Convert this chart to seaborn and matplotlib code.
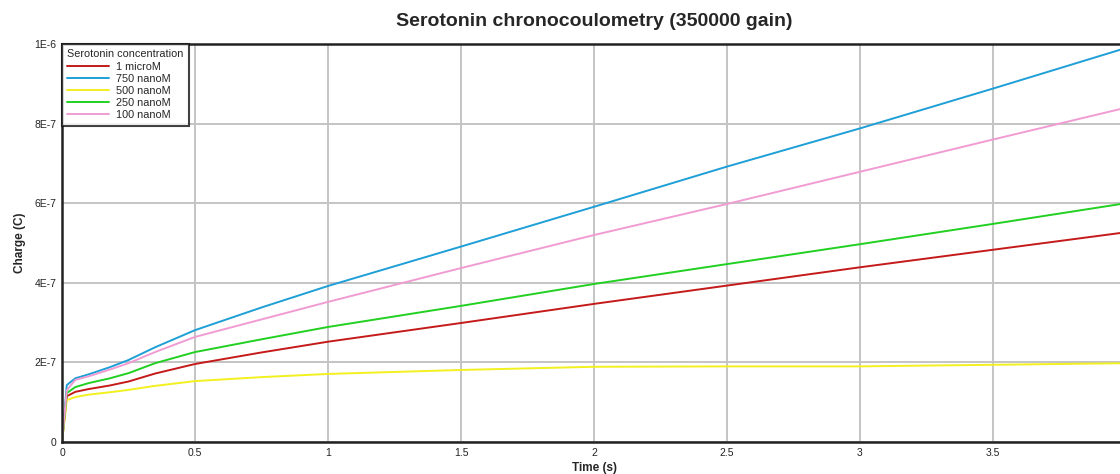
import numpy as np
import pandas as pd
import matplotlib
matplotlib.use("Agg")
import matplotlib.pyplot as plt
import seaborn as sns

# ---- data ----
time_s = [0.0, 0.018, 0.05, 0.1, 0.18, 0.25, 0.35, 0.5, 0.75, 1.0, 1.5, 2.0, 2.5, 3.0, 3.5, 4.0]
q_1uM   = [0.0, 0.115e-6, 0.126e-6, 0.133e-6, 0.142e-6, 0.152e-6, 0.172e-6, 0.196e-6, 0.225e-6, 0.252e-6, 0.299e-6, 0.347e-6, 0.393e-6, 0.439e-6, 0.483e-6, 0.527e-6]
q_750nM = [0.0, 0.143e-6, 0.160e-6, 0.170e-6, 0.188e-6, 0.206e-6, 0.238e-6, 0.281e-6, 0.338e-6, 0.392e-6, 0.491e-6, 0.591e-6, 0.692e-6, 0.788e-6, 0.888e-6, 0.990e-6]
q_500nM = [0.0, 0.105e-6, 0.113e-6, 0.119e-6, 0.125e-6, 0.131e-6, 0.141e-6, 0.153e-6, 0.163e-6, 0.171e-6, 0.181e-6, 0.189e-6, 0.190e-6, 0.190e-6, 0.194e-6, 0.198e-6]
q_250nM = [0.0, 0.123e-6, 0.138e-6, 0.148e-6, 0.160e-6, 0.173e-6, 0.198e-6, 0.226e-6, 0.258e-6, 0.289e-6, 0.342e-6, 0.397e-6, 0.447e-6, 0.497e-6, 0.548e-6, 0.600e-6]
q_100nM = [0.0, 0.130e-6, 0.156e-6, 0.165e-6, 0.182e-6, 0.198e-6, 0.226e-6, 0.264e-6, 0.308e-6, 0.352e-6, 0.437e-6, 0.520e-6, 0.598e-6, 0.679e-6, 0.760e-6, 0.840e-6]

series_names = ["1 microM", "750 nanoM", "500 nanoM", "250 nanoM", "100 nanoM"]
series_vals = [q_1uM, q_750nM, q_500nM, q_250nM, q_100nM]
colors = ["#c41a1a", "#1e9fd6", "#f2f01e", "#22d022", "#f09cd2"]

x_ticks = [0, 0.5, 1, 1.5, 2, 2.5, 3, 3.5]
x_tick_labels = ["0", "0.5", "1", "1.5", "2", "2.5", "3", "3.5"]
y_ticks = [0, 2e-7, 4e-7, 6e-7, 8e-7, 1e-6]
y_tick_labels = ["0", "2E-7", "4E-7", "6E-7", "8E-7", "1E-6"]

rows = []
for name, vals in zip(series_names, series_vals):
    for t, q in zip(time_s, vals):
        rows.append({"Time (s)": t, "Charge (C)": q, "Serotonin concentration": name})
df = pd.DataFrame(rows)

sns.set_theme(style="white")
plt.rcParams["font.family"] = ["Liberation Sans", "DejaVu Sans"]

fig = plt.figure(figsize=(11.2, 4.74), dpi=100)
ax = fig.add_axes([62 / 1120, 32 / 474, 1064 / 1120, 398 / 474])

sns.lineplot(data=df, x="Time (s)", y="Charge (C)", hue="Serotonin concentration",
             hue_order=series_names, palette=colors, linewidth=1.4, ax=ax,
             estimator=None, sort=False)

ax.set_xlim(0, 4)
ax.set_ylim(0, 1e-6)
ax.set_xticks(x_ticks)
ax.set_xticklabels(x_tick_labels)
ax.set_yticks(y_ticks)
ax.set_yticklabels(y_tick_labels)
ax.tick_params(axis="both", labelsize=7.5, length=0, pad=4, colors="#222222")
ax.grid(True, color="#c4c4c4", linewidth=1.4)
ax.axvline(4, color="#c4c4c4", linewidth=1.4, zorder=0)
ax.set_axisbelow(True)
for s in ["left", "bottom", "top"]:
    ax.spines[s].set_color("#222222")
    ax.spines[s].set_linewidth(1.8)
ax.spines["right"].set_visible(False)

ax.set_xlabel("Time (s)", fontsize=8.5, fontweight="bold", labelpad=3)
ax.set_ylabel("Charge (C)", fontsize=8.5, fontweight="bold", labelpad=6)
fig.text(0.531, 0.955, "Serotonin chronocoulometry (350000 gain)", ha="center", va="center",
         fontsize=14, fontweight="bold")

leg = ax.legend(loc="upper left", title="Serotonin concentration", fontsize=7.8,
                title_fontsize=7.8, frameon=True, fancybox=False, borderaxespad=0,
                handlelength=3.8, handletextpad=0.7, labelspacing=0.2, borderpad=0.5)
leg._legend_box.align = "left"
leg.get_frame().set_edgecolor("#111111")
leg.get_frame().set_linewidth(1.5)
for line in leg.get_lines():
    line.set_linewidth(1.4)

fig.savefig("out.png", dpi=100)
